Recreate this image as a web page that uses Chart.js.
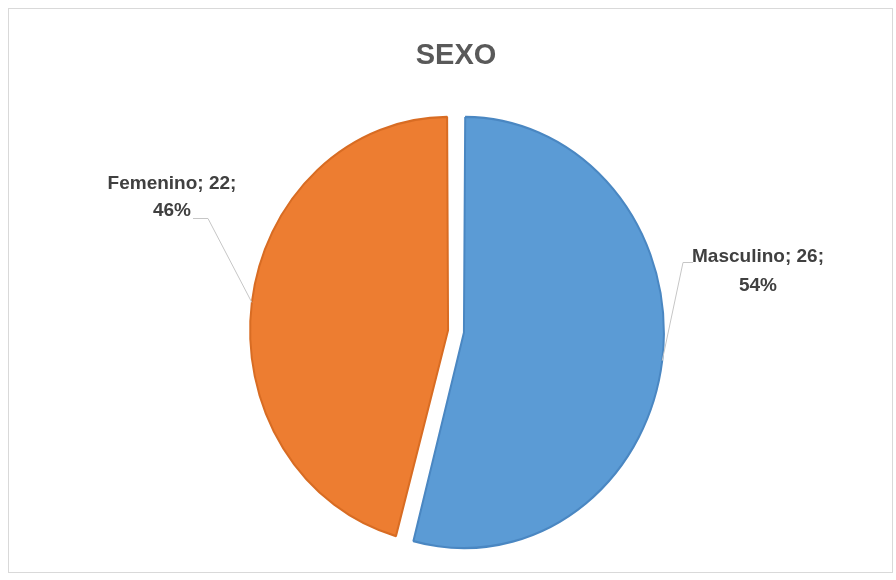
<!DOCTYPE html>
<html>
<head>
<meta charset="utf-8">
<script src="https://cdn.jsdelivr.net/npm/chart.js@4/dist/chart.umd.min.js"></script>
<style>
	html, body { margin: 0; padding: 0; background: #ffffff; }
	#wrap { position: relative; width: 896px; height: 580px; }
</style>
</head>
<body>
<div id="wrap"><canvas id="pie" width="896" height="580"></canvas></div>
<script>
// slices go clockwise from 12 o'clock
const categories = ['Masculino', 'Femenino'];
const counts = [26, 22];
const sliceColors = ['#5B9BD5', '#ED7D31'];
const sliceEdges = ['#4A87C2', '#D86C23'];

const FONT = '"Liberation Sans", Arial, sans-serif';
const SQUASH = 1.078; // pie is drawn a little taller than wide

// where each label's text sits and where its leader line bends
const labelSpots = [
	{ x: 758, y: 257, gap: 29, elbow: [[693, 262], [683, 262]] },
	{ x: 172, y: 184, gap: 27, elbow: [[193, 218], [208, 218]] }
];

const total = counts.reduce((a, b) => a + b, 0);

// point on the outer edge of an arc at its middle angle; mirrors how ArcElement
// shifts an exploded slice and grows its radius, then applies the squash
function edgePoint(arc) {
	const p = arc.getProps(['x', 'y', 'startAngle', 'endAngle', 'outerRadius', 'circumference']);
	const half = (p.startAngle + p.endAngle) / 2;
	const shift = (arc.options.offset || 0) / 4;
	const fix = 1 - Math.sin(Math.min(Math.PI, p.circumference || 0));
	const reach = shift + p.outerRadius + shift * fix;
	const px = p.x + Math.cos(half) * reach;
	const py = p.y + Math.sin(half) * reach;
	return [px, p.y + (py - p.y) * SQUASH];
}

const frame = {
	id: 'frame',
	beforeDraw(chart) {
		const ctx = chart.ctx;
		ctx.save();
		ctx.strokeStyle = '#d9d9d9';
		ctx.lineWidth = 1;
		ctx.strokeRect(8.5, 8.5, 884, 564);
		ctx.restore();
	}
};

const squash = {
	id: 'squash',
	beforeDatasetsDraw(chart) {
		const arc = chart.getDatasetMeta(0).data[0];
		const ctx = chart.ctx;
		ctx.save();
		ctx.translate(arc.x, arc.y);
		ctx.scale(1, SQUASH);
		ctx.translate(-arc.x, -arc.y);
	},
	afterDatasetsDraw(chart) {
		chart.ctx.restore();
	}
};

const sliceLabels = {
	id: 'sliceLabels',
	afterDraw(chart) {
		const ctx = chart.ctx;
		const arcs = chart.getDatasetMeta(0).data;
		arcs.forEach((arc, i) => {
			const spot = labelSpots[i];
			const end = edgePoint(arc);

			ctx.save();
			ctx.strokeStyle = '#c6c6c6';
			ctx.lineWidth = 1;
			ctx.beginPath();
			ctx.moveTo(spot.elbow[0][0], spot.elbow[0][1] + 0.5);
			ctx.lineTo(spot.elbow[1][0], spot.elbow[1][1] + 0.5);
			ctx.lineTo(end[0], end[1]);
			ctx.stroke();

			const pct = Math.round(counts[i] / total * 100);
			ctx.fillStyle = '#404040';
			ctx.font = 'bold 19px ' + FONT;
			ctx.textAlign = 'center';
			ctx.textBaseline = 'middle';
			ctx.fillText(`${categories[i]}; ${counts[i]};`, spot.x, spot.y);
			ctx.fillText(`${pct}%`, spot.x, spot.y + spot.gap);
			ctx.restore();
		});
	}
};

new Chart(document.getElementById('pie'), {
	type: 'pie',
	data: {
		labels: categories,
		datasets: [{
			data: counts,
			backgroundColor: sliceColors,
			borderColor: sliceEdges,
			borderWidth: 2,
			offset: [32, 32],
			radius: 192
		}]
	},
	options: {
		responsive: false,
		animation: false,
		events: [],
		layout: { padding: { left: 16, right: 0, top: 0, bottom: 0 } },
		plugins: {
			legend: { display: false },
			tooltip: { enabled: false },
			title: {
				display: true,
				text: 'SEXO',
				color: '#595959',
				font: { family: FONT, size: 29, weight: 'bold' },
				padding: { top: 39, bottom: 9 }
			}
		}
	},
	plugins: [frame, squash, sliceLabels]
});
</script>
</body>
</html>
